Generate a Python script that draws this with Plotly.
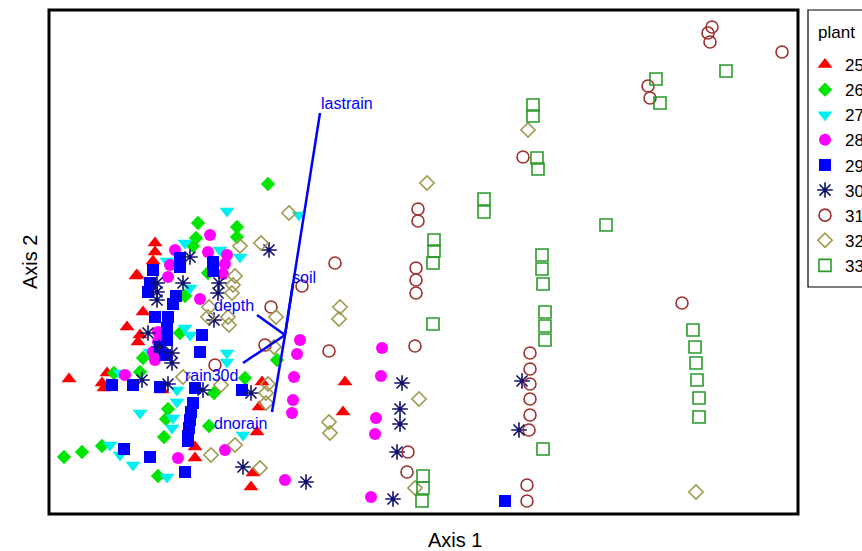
import plotly.graph_objects as go

# Ordination scores (Axis 1 / Axis 2 in picture units)
groups = ["25", "26", "27", "28", "29", "30", "31", "32", "33"]

x25 = [155, 155, 153, 136, 143, 127, 140, 137, 138, 69, 107, 104, 102, 162, 195, 195, 262, 259, 257, 253, 251, 345, 343]
y25 = [243, 252, 261, 276, 312, 327, 335, 275, 342, 379, 373, 388, 383, 390, 447, 458, 382, 407, 432, 473, 487, 382, 412]

x26 = [268, 198, 196, 193, 237, 237, 185, 208, 180, 143, 140, 114, 277, 214, 209, 168, 166, 164, 158, 64, 82, 102, 245]
y26 = [184, 223, 238, 246, 227, 237, 296, 273, 333, 358, 372, 373, 360, 393, 426, 409, 419, 437, 476, 457, 452, 446, 378]

x27 = [227, 299, 185, 167, 220, 240, 190, 150, 185, 190, 227, 227, 150, 120, 177, 177, 140, 173, 172, 110, 120, 133, 167, 243]
y27 = [211, 215, 243, 261, 250, 257, 288, 282, 328, 335, 353, 362, 352, 373, 390, 402, 413, 418, 428, 445, 455, 465, 477, 435]

x28 = [210, 175, 208, 227, 225, 223, 170, 168, 200, 158, 158, 153, 155, 125, 178, 225, 300, 297, 294, 293, 292, 285, 382, 381, 376, 375, 371]
y28 = [235, 250, 252, 255, 264, 274, 265, 277, 299, 332, 342, 352, 360, 375, 458, 450, 340, 354, 377, 400, 413, 480, 348, 376, 418, 434, 497]

x29 = [153, 150, 148, 180, 180, 213, 213, 176, 173, 155, 168, 167, 167, 160, 165, 202, 200, 112, 133, 160, 195, 242, 193, 191, 190, 189, 188, 188, 124, 150, 185, 505]
y29 = [270, 283, 292, 258, 267, 262, 271, 296, 304, 317, 317, 328, 340, 347, 355, 335, 352, 385, 385, 387, 388, 390, 403, 412, 420, 428, 436, 441, 449, 457, 472, 501]

x30 = [269, 190, 157, 157, 157, 183, 219, 218, 214, 148, 159, 172, 172, 142, 168, 203, 251, 243, 306, 402, 400, 400, 397, 393, 522, 519]
y30 = [250, 257, 283, 292, 300, 283, 283, 293, 320, 333, 347, 353, 363, 380, 384, 390, 393, 467, 482, 383, 409, 424, 452, 499, 381, 430]

x31 = [712, 708, 710, 782, 648, 650, 682, 523, 418, 418, 416, 416, 416, 415, 530, 530, 530, 530, 530, 529, 408, 407, 527, 527, 335, 302, 271, 265, 329, 215]
y31 = [27, 33, 42, 52, 86, 98, 303, 157, 209, 221, 268, 280, 293, 346, 353, 369, 384, 399, 415, 430, 452, 472, 485, 501, 263, 286, 307, 345, 351, 365]

x32 = [696, 528, 427, 419, 415, 289, 261, 240, 235, 233, 232, 209, 208, 228, 229, 276, 340, 339, 274, 268, 266, 266, 329, 330, 235, 211, 260, 221, 183]
y32 = [492, 130, 183, 399, 488, 213, 243, 246, 276, 285, 293, 307, 317, 317, 325, 317, 307, 319, 347, 384, 393, 403, 422, 433, 445, 455, 468, 385, 377]

x33 = [656, 660, 726, 606, 693, 695, 696, 697, 699, 699, 533, 533, 537, 538, 484, 484, 434, 434, 433, 542, 542, 543, 545, 545, 545, 433, 543, 423, 423, 422]
y33 = [79, 103, 71, 225, 330, 347, 363, 380, 398, 417, 105, 116, 158, 169, 199, 212, 240, 251, 263, 255, 269, 284, 312, 326, 340, 324, 449, 476, 488, 501]

# Biplot vectors (origin -> tip) and their labels
vec_names = ["lastrain", "soil", "depth", "rain30d", "dnorain"]
vec_origin = (285, 335)
vec_x = [320, 293, 257, 243, 272]
vec_y = [113, 283, 315, 363, 412]
lab_x = [319, 290, 212, 183, 212]
lab_y = [103, 277, 305, 375, 423]

xs = [x25, x26, x27, x28, x29, x30, x31, x32, x33]
ys = [y25, y26, y27, y28, y29, y30, y31, y32, y33]
symbols = ["triangle-up", "diamond", "triangle-down", "circle", "square",
           "asterisk-open", "circle-open", "diamond-open", "square-open"]
colors = ["#FF0000", "#00E600", "#00F0F0", "#FF00FF", "#0000FF",
          "#101070", "#A03030", "#A09A50", "#2A9A2A"]
sizes = [13, 11, 13, 12, 12, 13, 12, 11, 12]

FONT = "Liberation Sans, Arial"

fig = go.Figure()
for g, x, y, s, c, sz in zip(groups, xs, ys, symbols, colors, sizes):
    is_open = s.endswith("open")
    fig.add_trace(go.Scatter(
        x=x, y=y, mode="markers", name=g,
        marker=dict(symbol=s, size=sz, color=c,
                    line=dict(color=c, width=1.6 if is_open else 0)),
    ))

for name, ex, ey in zip(vec_names, vec_x, vec_y):
    fig.add_trace(go.Scatter(
        x=[vec_origin[0], ex], y=[vec_origin[1], ey], mode="lines",
        line=dict(color="#0000FF", width=2.5), showlegend=False, hoverinfo="skip"))

for name, lx, ly in zip(vec_names, lab_x, lab_y):
    fig.add_annotation(x=lx, y=ly, text=name, showarrow=False, xanchor="left",
                       yanchor="middle", font=dict(family=FONT, size=16, color="#0000FF"))

# axis titles
fig.add_annotation(xref="paper", yref="paper", x=(455 - 49) / 749, y=-26 / 504,
                   yanchor="middle", xanchor="center",
                   text="Axis 1", showarrow=False,
                   font=dict(family=FONT, size=20, color="black"))
fig.add_annotation(xref="paper", yref="paper", x=(30 - 49) / 749, y=(514 - 262) / 504,
                   xanchor="center", yanchor="middle",
                   text="Axis 2", showarrow=False, textangle=-90,
                   font=dict(family=FONT, size=20, color="black"))

# legend title and box
fig.add_annotation(xref="paper", yref="paper", x=(816 - 49) / 749, y=(514 - 33) / 504,
                   xanchor="left", yanchor="middle", text="plant", showarrow=False,
                   font=dict(family=FONT, size=17, color="black"))
fig.add_shape(type="rect", xref="paper", yref="paper",
              x0=(808 - 49) / 749, x1=(900 - 49) / 749,
              y0=(514 - 287) / 504, y1=1.0,
              line=dict(color="black", width=1.2))

# plot frame
fig.add_shape(type="rect", xref="paper", yref="paper", x0=0, y0=0, x1=1, y1=1,
              line=dict(color="black", width=3))

fig.update_xaxes(range=[49, 798], showgrid=False, zeroline=False, showticklabels=False, ticks="")
fig.update_yaxes(range=[514, 10], showgrid=False, zeroline=False, showticklabels=False, ticks="")

fig.update_layout(
    width=862, height=551,
    margin=dict(l=49, r=64, t=10, b=37, autoexpand=False),
    plot_bgcolor="white", paper_bgcolor="white",
    font=dict(family=FONT, color="black"),
    showlegend=True,
    legend=dict(
        xref="container", yref="container", x=805 / 862, y=1 - 47 / 551,
        xanchor="left", yanchor="top", itemwidth=30,
        font=dict(size=17), borderwidth=0,
        bgcolor="rgba(0,0,0,0)", tracegroupgap=0,
    ),
)

fig.write_html("out.html")
